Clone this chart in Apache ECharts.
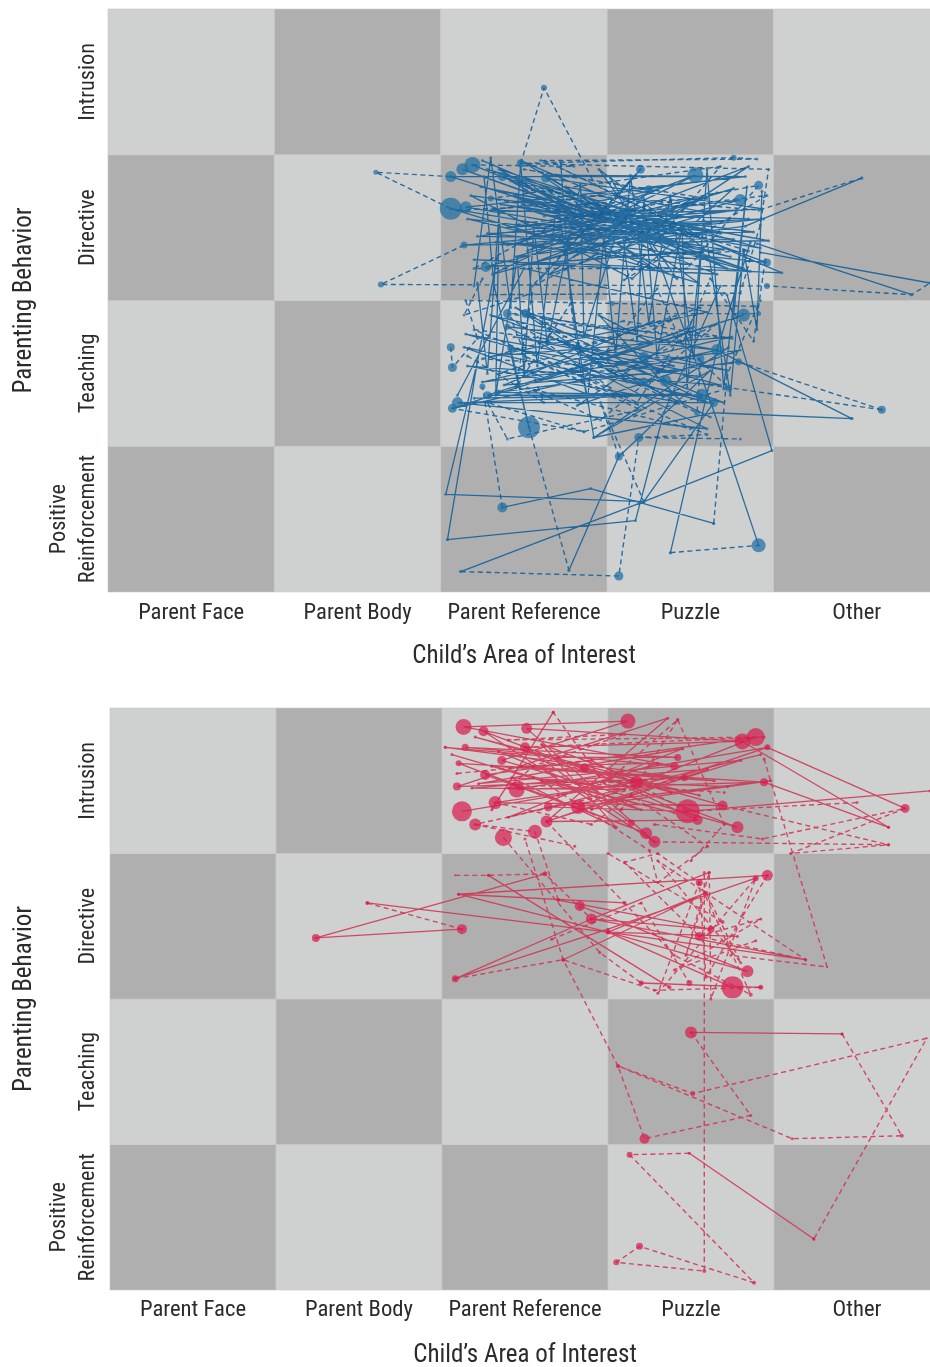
<!DOCTYPE html>
<html><head><meta charset="utf-8">
<style>html,body{margin:0;padding:0;background:#fff}#c{width:930px;height:1367px}</style>
<script src="https://cdn.jsdelivr.net/npm/echarts@6/dist/echarts.min.js"></script>
</head><body><div id="c"></div>
<script>
const areaNames = ['Parent Face','Parent Body','Parent Reference','Puzzle','Other'];
const behaviorNames = ['Positive\nReinforcement','Teaching','Directive','Intrusion'];
const xTitle = 'Child\u2019s Area of Interest';
const yTitle = 'Parenting Behavior';
const lightCell = '#cfd0d0', darkCell = '#afafaf';

// Each point: [area position, behavior position, dot size]; null breaks the path.
const blueSolid = [
 [2.37,.58,10],[2.90,.71],[3.64,.47],null,
 [2.22,1.58],[2.03,.67],[3.22,.62],[3.64,1.30,9],[2.10,1.30,11],[3.60,1.12],[2.40,1.82,6],[3.66,1.66,12],[2.07,1.26,9],[3.82,1.90,13],[2.28,1.35,8],[3.57,1.35,13],[2.34,1.37,6],[3.79,1.58,7],null,
 [2.12,.14],[3.22,.62],[3.99,.97],[3.72,2.04],null,
 [2.04,.36],[3.17,.49],[3.34,1.23],[3.68,2.10],null,
 [2.04,.36],[2.22,1.58],[2.34,2.30],null,
 [2.77,.15],[3.07,.93,8],[3.62,1.52],[2.92,1.06],[2.78,2.02],[2.72,2.95],null,
 [3.38,.27],[3.66,1.66],[3.86,2.40],null,
 [3.91,.32,14],[3.62,1.31],[3.30,2.30],[3.02,2.84],null,
 [4.47,1.19],[3.64,1.23],[2.92,1.06],[3.73,1.68],null,
 [4.47,1.19],[3.66,1.66],[2.51,1.91,9],[3.60,1.30],[2.15,1.77],[3.54,1.48],[2.42,1.67,7],[2.53,1.13,22],[2.32,2.10],[2.26,2.85],null,
 [2.19,2.93,16],[3.30,2.42],[2.13,2.90,12],[3.82,2.22],[2.06,2.85,11],[3.78,2.85],[2.30,2.62],[3.85,2.56],[2.14,2.38,7],[3.97,2.41],[2.35,2.75],[3.66,2.18],[2.20,2.28],[4.05,2.19],[2.48,2.96],[3.45,2.30],[2.62,2.86],[3.83,2.85],[2.15,2.64,12],[3.70,2.35],[2.27,2.23,10],[3.80,2.69,12],[2.40,2.50],[3.93,2.63],[2.63,2.84,9],[3.55,2.12],[2.06,2.63,22],[3.25,2.40],[2.75,2.78],[3.62,2.60],[2.31,2.18],[3.53,2.86,16],[2.55,2.44],[3.88,2.47],[2.18,2.72],[3.15,2.15],[3.76,2.77],[2.45,2.30],[3.83,2.51],[4.53,2.84],null,
 [3.92,2.33],[4.94,2.12],null,[3.90,2.39],[4.83,2.04],null,
 [2.25,2.96],[3.10,2.55],[2.65,2.18],[3.50,2.52],[2.28,2.46],[3.96,2.26,8],[2.85,2.72],[3.72,2.22],[2.42,2.82],[3.42,2.15],[2.95,2.90],[3.58,2.36],[2.16,2.56],[3.05,2.32],[3.85,2.92],[2.52,2.34],[3.30,2.76],[2.68,2.62],[3.76,2.42],[2.22,2.44],[3.40,2.62],[2.82,2.38],[3.20,2.90,9],[2.60,2.15],null,
 [2.20,2.10],[2.30,2.98],[2.42,1.95],[2.48,2.94,8],[2.58,1.55],[2.70,2.70],[2.88,1.30],[2.98,2.42],[3.05,1.62],[3.14,2.86],[3.25,1.85],[3.38,2.72],[3.52,1.60],[3.60,2.90],[3.70,1.40],[3.84,2.78],[3.76,1.90],null,
 [2.10,1.35],[2.50,2.22],[3.60,1.92],[2.32,1.62],[3.75,1.75],[2.60,1.45],[3.52,1.82],[2.82,1.28],[3.80,1.66],[2.25,1.44],[3.25,1.72],[2.95,1.90],[3.45,1.30],[2.16,1.55],[3.68,1.42],[2.72,1.72],[3.12,1.44],[2.45,1.95],[3.40,1.55],[2.90,1.60],[3.62,1.20],null,
 [2.24,2.78],[3.68,2.46],[2.36,2.66],[3.92,2.36],[2.28,2.90],[3.48,2.44],[2.44,2.72],[3.74,2.30],[2.52,2.62],[3.86,2.20],[2.33,2.40],[3.60,2.28],[2.58,2.76],[3.28,2.22],[2.70,2.50],[3.94,2.56],[2.40,2.38],[3.52,2.70],[2.80,2.30],[3.66,2.74],[2.56,2.26],[3.34,2.48],[2.92,2.66],[3.44,2.58],[2.62,2.58],[3.78,2.62],[2.48,2.42],[3.12,2.62],[2.35,2.90],[3.02,2.46],null,
 [2.22,2.12],[2.28,1.50],[2.35,2.60],[2.33,1.35],[2.46,2.30],[2.50,1.50],[2.56,2.50],[2.64,1.70],[2.84,2.80],[2.86,1.75],[3.08,2.55],[3.18,1.72],[3.22,2.70],[3.30,1.62],[3.45,2.50],[3.48,1.40],[3.58,2.55],[3.74,1.35],[3.82,2.35],[3.90,1.80],[3.93,2.75],null,
 [2.12,1.30],[3.50,1.36],[2.20,1.33],[2.92,1.34],[2.14,1.68],[3.70,1.30],[2.30,1.90],[3.72,1.52],[2.44,1.75],[3.46,1.52],[2.38,1.42],[3.28,1.86]
];
const blueDashed = [
 [2.48,2.94],[2.62,3.46,6],[2.93,2.79],null,
 [2.06,2.85],[1.61,2.88,5],[2.06,2.63],null,
 [2.14,2.38],[1.64,2.11,6],[3.96,2.10,6],[4.83,2.04],[4.94,2.12],null,
 [4.53,2.84],[3.91,2.62],[2.50,2.76],null,
 [2.12,.14],[3.07,.11,9],[3.19,1.06,9],[3.80,1.05],null,
 [2.53,1.13],[2.77,.15],null,[2.37,.58],[2.25,1.41,6],null,
 [3.38,.27],[3.91,.32],null,[3.64,.47],[3.72,1.49],[3.92,2.00],null,
 [4.65,1.25,8],[3.79,1.58],null,[4.65,1.25],[3.62,1.42],null,
 [3.07,.93],[2.96,1.30],[3.22,.62],null,
 [2.19,2.93],[2.80,2.92],[2.60,2.96],[3.90,2.97],[3.76,2.98,6],[2.48,2.94],[3.97,2.90],[3.92,2.52],[3.80,2.05],[2.30,2.04],[3.70,2.05],null,
 [2.06,1.68,8],[2.07,1.54,9],[2.22,1.74],[2.15,2.00],[3.03,1.98,5],[3.89,1.96,3],[3.91,1.91,5],[2.40,1.91,9],[3.40,1.76],[3.73,1.40,7],[2.86,1.10],[2.07,1.26],null,
 [2.86,1.10],[2.28,1.30],[2.40,1.05],[3.20,1.25],[2.50,1.62],[3.60,1.08],[3.19,1.06],null,
 [2.65,1.76],[3.22,1.44,9],[3.35,1.45,12],[3.22,1.61,11],[3.56,1.60,8],[3.54,1.23,6],[2.95,1.55],[2.25,1.60],[3.10,1.86],[3.75,1.74],[2.60,1.85],[3.30,1.38],null,
 [2.10,2.62],[3.60,2.70],[2.50,2.90],[3.25,2.76,9],[2.91,2.30],[3.85,2.34],[2.37,2.85,9],[3.20,2.52],[2.30,2.70,6],[3.68,2.92],[3.10,2.14],[3.96,2.72],[2.74,2.56],[2.20,2.22],[3.48,2.22],[3.91,2.79,9],[3.10,2.62],[2.45,2.52],[3.55,2.45],[2.70,2.92],[3.36,2.55],[2.55,2.10],[3.20,2.90],null,
 [2.25,2.15],[2.14,1.90],[2.55,2.05],[2.45,1.40],[2.78,1.98],[2.85,1.45],[3.30,2.08],[3.45,1.70],[3.62,2.15],[3.88,1.72],[3.95,2.28],null,
 [2.16,1.62],[2.62,1.30],[2.42,1.88],[3.02,1.40],[2.20,1.80],[2.88,1.70],[3.56,1.95],[3.18,1.30],[2.76,1.52],[3.42,1.88],[2.35,1.50],[3.10,1.52],[3.66,1.84],[2.96,1.18],[2.52,1.40],[3.50,1.12]
];
const redSolid = [
 [1.24,2.42,8],[2.12,2.48,10],null,[1.24,2.42],[2.62,2.86,5],null,
 [1.55,2.66,4],[3.00,2.46,5],[2.10,2.72,3],[3.10,2.66,4],null,
 [2.10,2.72],[3.96,2.85,11],null,[2.08,2.14,7],[2.90,2.55,11],[3.61,2.87,3],null,
 [2.08,2.14],[3.00,2.48],[3.89,2.83,6],null,
 [2.28,2.85],[3.37,2.08,4],null,[2.70,2.68,4],[3.62,2.48,7],[2.90,2.55],[4.19,2.27,3],[3.00,2.46],[3.78,2.43,3],null,
 [2.83,2.64,10],[3.84,2.19,12],[3.00,2.46],[3.59,2.73,4],[2.73,2.27,4],null,
 [3.20,2.11],[3.92,2.08,5],null,[3.00,2.46],[3.75,2.08,22],null,
 [3.50,1.77,12],[4.41,1.76,3],null,[3.49,.94,2],[4.24,.35,3],null,
 [2.02,3.73,3],[2.70,3.66],[3.42,3.66,7],[2.14,3.73,7],[3.40,3.60,8],[2.13,3.87,16],[3.12,3.91,15],[2.36,3.64,9],[3.78,3.18,12],[2.25,3.84,10],[3.28,3.08,12],[2.51,3.86,11],[3.81,3.77,16],[2.50,3.73,10],[3.14,3.21,7],null,
 [2.02,3.73],[3.46,3.52,7],[2.09,3.46,8],[3.36,3.93,3],[2.63,3.22,12],[3.96,3.73,6],[2.45,3.44,16],[3.94,3.49,8],[2.10,3.62,6],[3.23,3.14,12],[2.26,3.54,10],[3.89,3.80,18],[2.82,3.32,14],[3.98,3.50],[2.64,3.32,9],[3.48,3.29,24],[4.94,3.43],null,
 [2.12,3.29,20],[3.17,3.49,13],[2.32,3.35,13],[3.69,3.33,10],[2.86,3.59,9],[3.54,3.23,10],[2.63,3.22],[3.80,3.64],[2.22,3.48],[3.45,3.72],[2.40,3.25],[3.92,3.68],null,
 [3.81,3.77],[4.69,3.18,3],null,[3.96,3.73],[4.79,3.31,9],null,[3.94,3.49],[4.69,3.18],null,
 [2.70,3.40],[3.30,3.62],[2.48,3.60],[3.64,3.50],[2.30,3.60],[3.40,3.28],[2.55,3.52],[3.10,3.44],[2.18,3.45],[3.60,3.58],[2.90,3.30],null,
 [2.06,3.68],[3.20,3.30],[2.34,3.70],[3.55,3.40],[2.20,3.80],[3.38,3.42],[2.60,3.75],[3.05,3.18],[2.42,3.52],[3.72,3.46]
];
const redDashed = [
 [3.50,1.77],[3.86,1.20,3],[3.22,1.04,10],[3.06,1.54,4],[3.51,1.35,5],[4.92,1.73,2],[4.24,.35],null,
 [4.41,1.76],[4.77,1.06,4],[4.11,1.04,3],[3.06,1.54],[2.73,2.27],[2.50,3.10],null,
 [3.49,.94],[3.13,.93,6],[3.88,.05,4],[3.19,.30,7],[3.05,.19,6],[3.58,.13,4],[3.58,2.87],null,
 [3.94,3.65],[4.32,2.22,2],[3.74,2.30],null,[2.70,2.68],[2.56,3.15,14],[2.20,3.20,12],null,
 [1.55,2.66],[2.12,2.48],null,[2.08,2.85,2],[2.28,2.85,3],[2.62,2.86],[2.90,2.55],null,
 [2.08,2.14],[2.73,2.27],[3.28,2.06,3],[3.92,2.08],null,[2.66,2.41,3],[3.20,2.66],[3.49,2.11,6],null,
 [2.37,3.11,17],[2.95,2.32],[3.20,2.11,5],null,[2.63,3.22],[3.40,2.30],[3.86,2.03,4],[3.55,2.80,7],[3.30,3.00],[3.10,2.94],[3.55,2.43,9],[3.69,2.53,4],[3.00,3.00],null,
 [3.96,2.85],[3.59,2.15],[3.55,2.80],[3.30,2.04],[3.89,2.83],[3.62,2.00],[3.61,2.87],[3.47,2.30],[3.59,2.73],[3.80,2.25],[3.30,2.95],[4.19,2.27],[3.55,2.43],[3.92,2.55],[3.40,2.20],[3.89,2.40],null,
 [2.67,3.97],[2.30,3.30],[2.67,3.97],[2.98,3.48],[3.42,3.92],[3.08,3.30],null,[3.42,3.92],[3.70,3.20],[3.50,2.95],null,
 [2.50,3.73],[3.94,3.80],[2.40,3.78],[3.10,3.82],[2.55,3.60],[2.40,3.45],[3.46,3.52],[2.20,3.20],[2.80,3.05],null,
 [3.28,3.08],[4.69,3.06,3],[4.10,3.00],[4.79,3.31],[3.93,3.10],[3.28,3.20],null,[3.69,3.33],[4.69,3.06],null,
 [2.09,3.55],[2.90,3.64],[3.48,3.29],[4.50,3.35],null,[2.32,3.35],[2.90,3.20],[3.14,3.40],[3.60,3.05],[3.30,2.80],[3.25,3.02],[2.60,3.50],[3.70,3.42]
];

const blueLine = '#115f98', bluePoint = '#1f6fa3', redLine = '#cf3553', redPoint = '#d81f50';

function cellSeries(grid){
  const cells = [];
  areaNames.forEach((_,i)=>behaviorNames.forEach((_,j)=>cells.push([i,j,(i+j)%2])));
  return {type:'custom',xAxisIndex:grid,yAxisIndex:grid,silent:true,z:1,data:cells,
    renderItem(p,api){
      const a=api.coord([api.value(0),api.value(1)+1]), b=api.coord([api.value(0)+1,api.value(1)]);
      return {type:'rect',shape:{x:a[0],y:a[1],width:b[0]-a[0],height:b[1]-a[1]},
        style:{fill:api.value(2)?lightCell:darkCell,stroke:'#c8c8c8',lineWidth:.6}};
    }};
}
function pathSeries(grid,pts,line,point,dashed){
  return {type:'line',xAxisIndex:grid,yAxisIndex:grid,z:3,silent:true,animation:false,
    data:pts.map(p=>p||['-','-',0]),encode:{x:0,y:1},connectNulls:false,showAllSymbol:true,
    symbol:'circle',symbolSize:v=>Number.isFinite(+v[2])&&v[2]!==undefined?+v[2]:3,
    lineStyle:{color:line,width:dashed?1.4:1.3,type:dashed?[5,3.5]:'solid',opacity:.88},
    itemStyle:{color:point,opacity:.72}};
}
const font='"Roboto Condensed","Liberation Sans",sans-serif';
const grids=[{left:108,top:9,width:832,height:583,outerBoundsMode:'none'},{left:110,top:708,width:830,height:582,outerBoundsMode:'none'}];
const axisBase={axisLine:{show:false},axisTick:{show:false},splitLine:{show:false}};
const chart=echarts.init(document.getElementById('c'),null,{renderer:'canvas'});
chart.setOption({animation:false,backgroundColor:'#fff',grid:grids,
  xAxis:grids.map((_,g)=>({...axisBase,type:'value',gridIndex:g,min:0,max:5,interval:.5,
    name:xTitle,nameLocation:'middle',nameGap:g?53:52,nameTextStyle:{fontFamily:font,fontSize:25,color:'#2b2b2b'},
    axisLabel:{fontFamily:font,fontSize:22.7,color:'#2b2b2b',margin:g?9:10,hideOverlap:false,
      formatter:v=>v%1?areaNames[Math.floor(v)]:''}})),
  yAxis:grids.map((_,g)=>({...axisBase,type:'value',gridIndex:g,min:0,max:4,interval:.5,
    name:yTitle,nameLocation:'middle',nameGap:g?72:70,nameTextStyle:{fontFamily:font,fontSize:25,color:'#2b2b2b'},
    axisLabel:{fontFamily:font,fontSize:22.3,color:'#2b2b2b',margin:g?7:5,rotate:90,lineHeight:29,align:'center',verticalAlign:'bottom',hideOverlap:false,
      formatter:v=>v%1?behaviorNames[Math.floor(v)]:''}})),
  series:[cellSeries(0),cellSeries(1),
    pathSeries(0,blueDashed,blueLine,bluePoint,true),pathSeries(0,blueSolid,blueLine,bluePoint,false),
    pathSeries(1,redDashed,redLine,redPoint,true),pathSeries(1,redSolid,redLine,redPoint,false)]
});
</script></body></html>
